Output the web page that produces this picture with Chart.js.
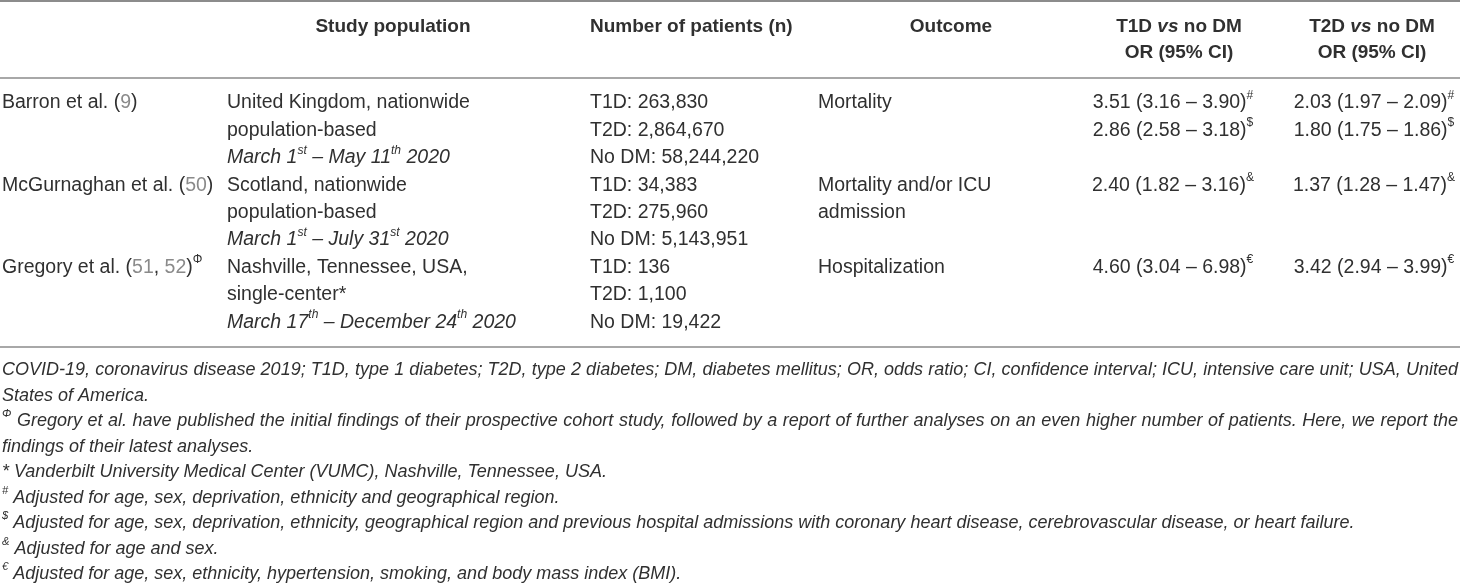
<!DOCTYPE html>
<html>
<head>
<meta charset="utf-8">
<script src="https://cdn.jsdelivr.net/npm/chart.js@4.4.0/dist/chart.umd.min.js"></script>
<style>
  html, body { margin: 0; padding: 0; background: #fff; }
  #wrap { width: 1460px; height: 586px; position: relative; }
</style>
</head>
<body>
<div id="wrap"><canvas id="tabla"></canvas></div>
<script>
// --- table content ---
const headTop = ['', 'Study population', 'Number of patients (n)', 'Outcome', 'T1D vs no DM', 'T2D vs no DM'];
const headBottom = ['', '', '', '', 'OR (95% CI)', 'OR (95% CI)'];

const studies = ['Barron et al.', 'McGurnaghan et al.', 'Gregory et al.'];
const studyRefs = [['9'], ['50'], ['51', '52']];
const studyMarks = ['', '', 'Φ'];
const places = [
  ['United Kingdom, nationwide', 'population-based'],
  ['Scotland, nationwide', 'population-based'],
  ['Nashville, Tennessee, USA,', 'single-center*']
];
const periodFrom = [['March', 1], ['March', 1], ['March', 17]];
const periodTo = [['May', 11], ['July', 31], ['December', 24]];
const periodYear = [2020, 2020, 2020];

const nT1D = [263830, 34383, 136];
const nT2D = [2864670, 275960, 1100];
const nNoDM = [58244220, 5143951, 19422];

const outcomes = [['Mortality'], ['Mortality and/or ICU', 'admission'], ['Hospitalization']];

// odds ratios: [OR, low, high]
const orStudy = [0, 0, 1, 2];
const orLine = [0, 1, 0, 0];
const orT1D = [[3.51, 3.16, 3.90], [2.86, 2.58, 3.18], [2.40, 1.82, 3.16], [4.60, 3.04, 6.98]];
const orT2D = [[2.03, 1.97, 2.09], [1.80, 1.75, 1.86], [1.37, 1.28, 1.47], [3.42, 2.94, 3.99]];
const orMarks = ['#', '$', '&', '€'];

const notes = [
  ['', 'COVID-19, coronavirus disease 2019; T1D, type 1 diabetes; T2D, type 2 diabetes; DM, diabetes mellitus; OR, odds ratio; CI, confidence interval; ICU, intensive care unit; USA, United', true],
  ['', 'States of America.', false],
  ['Φ', ' Gregory et al. have published the initial findings of their prospective cohort study, followed by a report of further analyses on an even higher number of patients. Here, we report the', true],
  ['', 'findings of their latest analyses.', false],
  ['', '* Vanderbilt University Medical Center (VUMC), Nashville, Tennessee, USA.', false],
  ['#', ' Adjusted for age, sex, deprivation, ethnicity and geographical region.', false],
  ['$', ' Adjusted for age, sex, deprivation, ethnicity, geographical region and previous hospital admissions with coronary heart disease, cerebrovascular disease, or heart failure.', false],
  ['&', ' Adjusted for age and sex.', false],
  ['€', ' Adjusted for age, sex, ethnicity, hypertension, smoking, and body mass index (BMI).', false]
];

// --- layout (px) ---
const colLeft = [2, 227, 590, 818];
const headMid = [0, 393, 0, 951, 1179, 1372];
const orMid = [1173, 1374];
const headRows = [27, 53];
const bodyTop = 103, bodyPitch = 27.4;
const noteTop = 370, notePitch = 25.5;
const rules = [1, 78, 347];
const fullWidth = 1456;

const FONT = '"Liberation Sans", Arial, sans-serif';
const BODY = 19.5, HEAD = 19, NOTE = 18;
const INK = '#303030';
const REF = '#8a8a8a';

function ordinal(n) {
  if (n % 10 === 1 && n !== 11) return 'st';
  if (n % 10 === 2 && n !== 12) return 'nd';
  if (n % 10 === 3 && n !== 13) return 'rd';
  return 'th';
}
const fmt = v => v.toFixed(2);
const num = v => v.toLocaleString('en-US');

const points = [];
function put(x, y, segs, size, align, justify) {
  points.push({ x: x, y: y, segs: segs, size: size, align: align || 'left', justify: !!justify });
}

// header
headTop.forEach((h, c) => {
  if (!h) return;
  const parts = h.split(' vs ');
  const segs = parts.length > 1
    ? [{ t: parts[0] + ' ', b: true }, { t: 'vs', b: true, it: true }, { t: ' ' + parts[1], b: true }]
    : [{ t: h, b: true }];
  if (headMid[c]) put(headMid[c], headRows[0], segs, HEAD, 'center');
  else put(colLeft[c], headRows[0], segs, HEAD, 'left');
  if (headBottom[c]) put(headMid[c], headRows[1], [{ t: headBottom[c], b: true }], HEAD, 'center');
});

// body
studies.forEach((s, i) => {
  const r = bodyTop + 3 * i * bodyPitch;
  const segs = [{ t: s + ' (' }];
  studyRefs[i].forEach((ref, k) => {
    if (k) segs.push({ t: ', ' });
    segs.push({ t: ref, c: REF });
  });
  segs.push({ t: ')' });
  if (studyMarks[i]) segs.push({ t: studyMarks[i], sup: true });
  put(colLeft[0], r, segs, BODY);

  places[i].forEach((p, k) => put(colLeft[1], r + k * bodyPitch, [{ t: p }], BODY));
  const f = periodFrom[i], t = periodTo[i];
  put(colLeft[1], r + 2 * bodyPitch, [
    { t: f[0] + ' ' + f[1], it: true }, { t: ordinal(f[1]), it: true, sup: true },
    { t: ' – ' + t[0] + ' ' + t[1], it: true }, { t: ordinal(t[1]), it: true, sup: true },
    { t: ' ' + periodYear[i], it: true }
  ], BODY);

  put(colLeft[2], r, [{ t: 'T1D: ' + num(nT1D[i]) }], BODY);
  put(colLeft[2], r + bodyPitch, [{ t: 'T2D: ' + num(nT2D[i]) }], BODY);
  put(colLeft[2], r + 2 * bodyPitch, [{ t: 'No DM: ' + num(nNoDM[i]) }], BODY);

  outcomes[i].forEach((o, k) => put(colLeft[3], r + k * bodyPitch, [{ t: o }], BODY));
});

orStudy.forEach((s, j) => {
  const r = bodyTop + (3 * s + orLine[j]) * bodyPitch;
  [orT1D[j], orT2D[j]].forEach((v, k) => {
    put(orMid[k], r, [
      { t: fmt(v[0]) + ' (' + fmt(v[1]) + ' – ' + fmt(v[2]) + ')' },
      { t: orMarks[j], sup: true }
    ], BODY, 'center');
  });
});

// footnotes
notes.forEach((n, j) => {
  const segs = [];
  if (n[0]) segs.push({ t: n[0], it: true, sup: true });
  segs.push({ t: n[1], it: true });
  put(colLeft[0], noteTop + j * notePitch, segs, NOTE, 'left', n[2]);
});

// --- drawing text through the chart's scales ---
function fontFor(seg, size) {
  const s = seg.sup ? size * 0.62 : size;
  return (seg.it ? 'italic ' : '') + (seg.b ? 'bold ' : '') + s + 'px ' + FONT;
}

const textPlugin = {
  id: 'richText',
  afterDatasetsDraw(chart) {
    const ctx = chart.ctx;
    const meta = chart.getDatasetMeta(0);
    ctx.save();
    ctx.textBaseline = 'middle';
    meta.data.forEach((el, idx) => {
      const p = chart.data.datasets[0].data[idx];
      const widths = p.segs.map(s => { ctx.font = fontFor(s, p.size); return ctx.measureText(s.t).width; });
      let total = widths.reduce((a, b) => a + b, 0);
      let extra = 0, spaces = 0;
      if (p.justify) {
        p.segs.forEach(s => { if (!s.sup) spaces += (s.t.match(/ /g) || []).length; });
        extra = spaces ? (fullWidth - total) / spaces : 0;
        total = fullWidth;
      }
      let x = el.x;
      if (p.align === 'center') x -= total / 2;
      else if (p.align === 'right') x -= total;
      p.segs.forEach((s, k) => {
        ctx.font = fontFor(s, p.size);
        ctx.fillStyle = s.c || INK;
        const y = s.sup ? el.y - p.size * 0.38 : el.y;
        if (extra && !s.sup) {
          s.t.split(' ').forEach((w, wi, arr) => {
            ctx.fillText(w, x, y);
            x += ctx.measureText(w).width;
            if (wi < arr.length - 1) x += ctx.measureText(' ').width + extra;
          });
        } else {
          ctx.fillText(s.t, x, y);
          x += widths[k];
        }
      });
    });
    ctx.restore();
  }
};

const ruleSets = rules.map((u, i) => ({
  type: 'line',
  data: [{ x: 0, y: u }, { x: 1460, y: u }],
  borderColor: i === 0 ? '#8c8c8c' : '#a8a8a8',
  borderWidth: 2,
  pointRadius: 0,
  fill: false
}));

new Chart(document.getElementById('tabla'), {
  type: 'scatter',
  data: {
    datasets: [{ data: points, pointRadius: 0, pointHoverRadius: 0 }].concat(ruleSets)
  },
  options: {
    responsive: true,
    maintainAspectRatio: false,
    animation: false,
    events: [],
    layout: { padding: 0 },
    plugins: { legend: { display: false }, tooltip: { enabled: false } },
    scales: {
      x: { type: 'linear', display: false, min: 0, max: 1460 },
      y: { type: 'linear', display: false, reverse: true, min: 0, max: 586 }
    }
  },
  plugins: [textPlugin]
});
</script>
</body>
</html>
